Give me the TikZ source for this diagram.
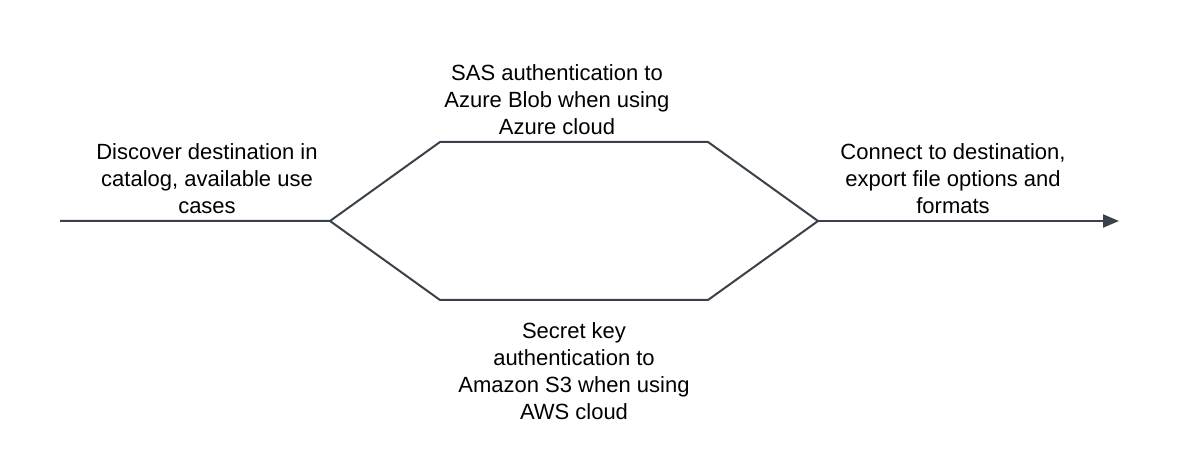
\documentclass[tikz,border=0pt]{standalone}
\usepackage{fontspec}
\setmainfont{Liberation Sans}
\usetikzlibrary{arrows.meta}
\definecolor{linec}{HTML}{3A414A}
\begin{document}
\begin{tikzpicture}[x=1pt,y=-1pt,
  flow/.style={draw=linec,line width=2pt,line join=miter},
  lbl/.style={align=center,font=\fontsize{22}{27}\selectfont,inner sep=0pt,text=black}]
\useasboundingbox (0,0) rectangle (1202,462);
\coordinate (start) at (60,221);
\coordinate (split) at (330,221);
\coordinate (ua) at (440,142);
\coordinate (ub) at (708,142);
\coordinate (la) at (440,300);
\coordinate (lb) at (708,300);
\coordinate (merge) at (818,221);
\coordinate (end) at (1119,221);
\draw[flow] (start) -- (split) -- (ua) -- (ub) -- (merge);
\draw[flow] (split) -- (la) -- (lb) -- (merge);
\draw[flow,-{Triangle[length=16pt,width=13pt]}] (merge) -- (end);
\node[lbl] (discover) at (207,179) {Discover destination in\\catalog, available use\\cases};
\node[lbl] (sas) at (557,100) {SAS authentication to\\Azure Blob when using\\Azure cloud};
\node[lbl] (secret) at (574,371) {Secret key\\authentication to\\Amazon S3 when using\\AWS cloud};
\node[lbl] (connect) at (953,179) {Connect to destination,\\export file options and\\formats};
\end{tikzpicture}
\end{document}
